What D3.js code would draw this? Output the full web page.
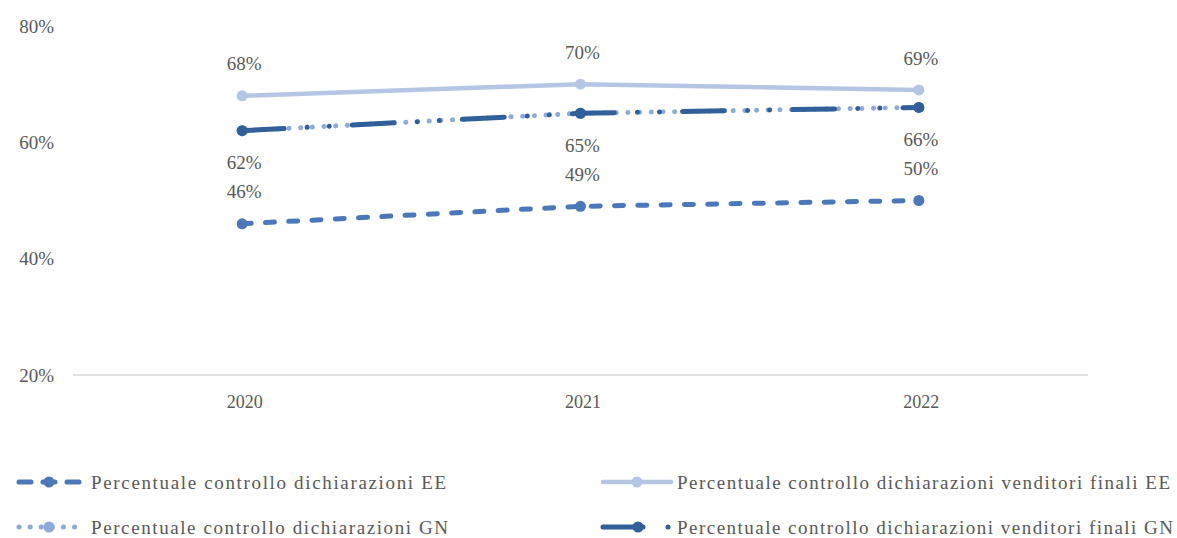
<!DOCTYPE html>
<html><head><meta charset="utf-8">
<script src="https://cdn.jsdelivr.net/npm/d3@7"></script>
<style>body{margin:0;background:#fff;} svg{display:block;}</style>
</head><body>
<svg id="c" width="1177" height="538" font-family="'Liberation Serif', 'Times New Roman', serif"></svg>
<script>
const years = ["2020", "2021", "2022"];
const yTicks = [20, 40, 60, 80];
const seriesNames = [
  "Percentuale controllo dichiarazioni EE",
  "Percentuale controllo dichiarazioni venditori finali EE",
  "Percentuale controllo dichiarazioni GN",
  "Percentuale controllo dichiarazioni venditori finali GN"
];
const valuesEE = [46, 49, 50];
const valuesVendEE = [68, 70, 69];
const valuesGN = [62, 65, 66];
const valuesVendGN = [62, 65, 66];

const series = [
  {name: seriesNames[0], values: valuesEE, color: "#4a78b9", dash: "9 14.3", label: "above", w: 5},
  {name: seriesNames[1], values: valuesVendEE, color: "#b4c6e3", dash: null, label: "above", w: 4.5},
  {name: seriesNames[2], values: valuesGN, color: "#8eaadb", dash: "0.1 11.6", label: "below", w: 5},
  {name: seriesNames[3], values: valuesVendGN, color: "#305f9a", dash: "42 23 0.1 22 0.1 23", label: "none", w: 5}
];

const svg = d3.select("#c");
const x = d3.scalePoint().domain(years).range([73, 1088]).padding(0.5);
const y = d3.scaleLinear().domain([20, 80]).range([375, 26]);

// y labels
svg.append("g").selectAll("text").data(yTicks).join("text")
  .attr("x", 54).attr("y", d => y(d)).attr("dy", "0.35em")
  .attr("text-anchor", "end").attr("fill", "#595959").attr("font-size", 19)
  .text(d => d + "%");

// x axis
const xAxis = d3.axisBottom(x).tickSize(0).tickPadding(20);
const gx = svg.append("g").attr("transform", "translate(0,375)").call(xAxis);
gx.attr("font-family", null);
gx.select(".domain").attr("stroke", "#d9d9d9").attr("stroke-width", 1.5).attr("d", "M73,0H1088");
gx.selectAll("text").attr("font-size", 18).attr("fill", "#595959").attr("dx", 2);

const line = d3.line().x((d, i) => x(years[i])).y(d => y(d));

series.forEach(s => {
  const g = svg.append("g");
  g.append("path").datum(s.values).attr("d", line)
    .attr("fill", "none").attr("stroke", s.color).attr("stroke-width", s.w)
    .attr("stroke-linecap", "round").attr("stroke-dasharray", s.dash);
  g.selectAll("circle").data(s.values).join("circle")
    .attr("cx", (d, i) => x(years[i])).attr("cy", d => y(d)).attr("r", 5.5)
    .attr("fill", s.color);
});

series.forEach(s => {
  if (s.label === "none") return;
  svg.append("g").selectAll("text").data(s.values).join("text")
    .attr("x", (d, i) => x(years[i]) + 2).attr("y", d => y(d) + (s.label === "above" ? -32 : 32))
    .attr("dy", "0.35em").attr("text-anchor", "middle")
    .attr("fill", "#595959").attr("font-size", 19)
    .text(d => d + "%");
});

// legend
const legendPos = [
  {sx: 19, mx: 49, tx: 91, y: 482, tl: 355, dash: "12 12"},
  {sx: 603, mx: 637, tx: 677, y: 482, tl: 493, dash: null},
  {sx: 19, mx: 49, tx: 91, y: 527, tl: 357, dash: "0.1 11"},
  {sx: 603, mx: 638, tx: 677, y: 527, tl: 496, dash: "40 25 0.1 100"}
];
series.forEach((s, i) => {
  const p = legendPos[i];
  const g = svg.append("g");
  const len = i === 3 ? 66 : (i === 1 ? 68 : 60);
  g.append("path").attr("d", `M${p.sx},${p.y}H${p.sx + len}`)
    .attr("stroke", s.color).attr("stroke-width", s.w).attr("fill", "none")
    .attr("stroke-linecap", "round")
    .attr("stroke-dasharray", p.dash);
  g.append("circle").attr("cx", p.mx).attr("cy", p.y).attr("r", 5.5).attr("fill", s.color);
  g.append("text").attr("x", p.tx).attr("y", p.y).attr("dy", "0.35em")
    .attr("fill", "#595959").attr("font-size", 19)
    .attr("textLength", p.tl).attr("lengthAdjust", "spacing")
    .text(s.name);
});
</script>
</body></html>
